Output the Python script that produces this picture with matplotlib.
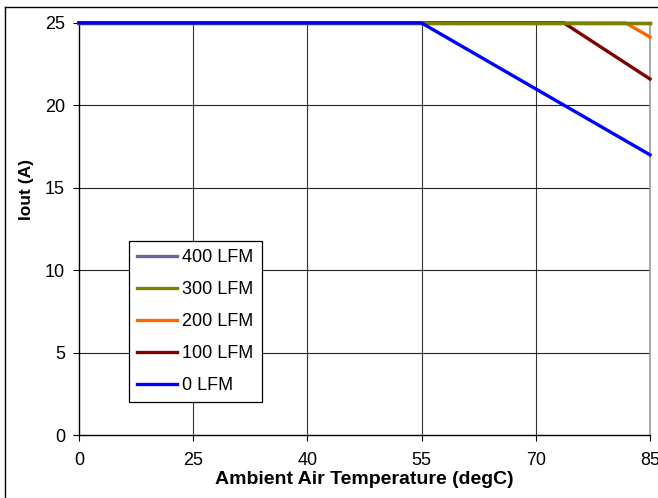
import numpy as np
import matplotlib
matplotlib.use("Agg")
import matplotlib.pyplot as plt
from matplotlib.lines import Line2D

plt.rcParams['font.family'] = ['Liberation Sans', 'DejaVu Sans']

# category axis of the original chart (evenly spaced labels)
axis_temps = [0, 25, 40, 55, 70, 85]
y_ticks = [0, 5, 10, 15, 20, 25]

# derating curves: (temperature breakpoints, current)
lfm400_t = [0, 85]
lfm400_i = [25, 25]
lfm300_t = [0, 85]
lfm300_i = [25, 25]
lfm200_t = [0, 81.8, 85]
lfm200_i = [25, 25, 24.15]
lfm100_t = [0, 73.7, 85]
lfm100_i = [25, 25, 21.6]
lfm0_t = [0, 55, 85]
lfm0_i = [25, 25, 17]

pos = np.arange(len(axis_temps))


def to_pos(t):
    return np.interp(t, axis_temps, pos)


fig = plt.figure(figsize=(6.58, 4.98), dpi=100)
W, H = 658, 498
ax = fig.add_axes([79 / W, 1 - 435 / H, (650 - 79) / W, (435 - 23) / H])

# gridlines
for p in pos[1:-1]:
    ax.axvline(p, color='#333333', lw=0.8, zorder=1)
for v in y_ticks[1:-1]:
    ax.axhline(v, color='#222222', lw=0.8, zorder=1)

lw = 2.4
l400, = ax.plot(to_pos(lfm400_t), lfm400_i, color='#666699', lw=lw, zorder=3, clip_on=False, label='400 LFM')
l200, = ax.plot(to_pos(lfm200_t), lfm200_i, color='#FF6600', lw=lw, zorder=4, clip_on=False, label='200 LFM')
l100, = ax.plot(to_pos(lfm100_t), lfm100_i, color='#800000', lw=lw, zorder=5, clip_on=False, label='100 LFM')
l300, = ax.plot(to_pos(lfm300_t), lfm300_i, color='#808000', lw=lw, zorder=6, clip_on=False, label='300 LFM')
l0, = ax.plot(to_pos(lfm0_t), lfm0_i, color='#0000FF', lw=lw, zorder=7, clip_on=False, label='0 LFM')

ax.set_xlim(0, 5)
ax.set_ylim(0, 25)
ax.set_xticks(pos)
ax.set_xticklabels([str(t) for t in axis_temps])
ax.set_yticks(y_ticks)

for s in ['top', 'right']:
    ax.spines[s].set_color('#999999')
    ax.spines[s].set_linewidth(1.2)
for s in ['left', 'bottom']:
    ax.spines[s].set_color('black')
    ax.spines[s].set_linewidth(1.0)

ax.tick_params(axis='y', direction='out', length=4.5, width=0.8, pad=5.5, labelsize=13)
ax.tick_params(axis='x', direction='out', length=4.5, width=0.8, pad=7.5, labelsize=13)

ax.set_xlabel('Ambient Air Temperature (degC)', fontsize=14, fontweight='bold', labelpad=2)
fig.text(26 / W, 1 - 189 / H, 'Iout (A)', rotation=90, ha='center', va='center',
         fontsize=12.5, fontweight='bold')

leg = ax.legend(handles=[l400, l300, l200, l100, l0], loc='upper left',
                bbox_to_anchor=((129 - 79) / 571, (435 - 241) / 412), borderaxespad=0,
                fontsize=13, frameon=True, fancybox=False, framealpha=1,
                edgecolor='black', handlelength=2.2, handletextpad=0.3,
                labelspacing=0.83, borderpad=0.45)
leg.get_frame().set_linewidth(0.9)
leg.set_zorder(10)

# outer chart border (only left and top edges are visible)
fig.add_artist(Line2D([4.5 / W, 4.5 / W], [0, 1 - 7 / H], color='black', lw=1.0,
                      transform=fig.transFigure))
fig.add_artist(Line2D([4.5 / W, 1], [1 - 7 / H, 1 - 7 / H], color='black', lw=1.0,
                      transform=fig.transFigure))

fig.savefig('out.png', dpi=100)
